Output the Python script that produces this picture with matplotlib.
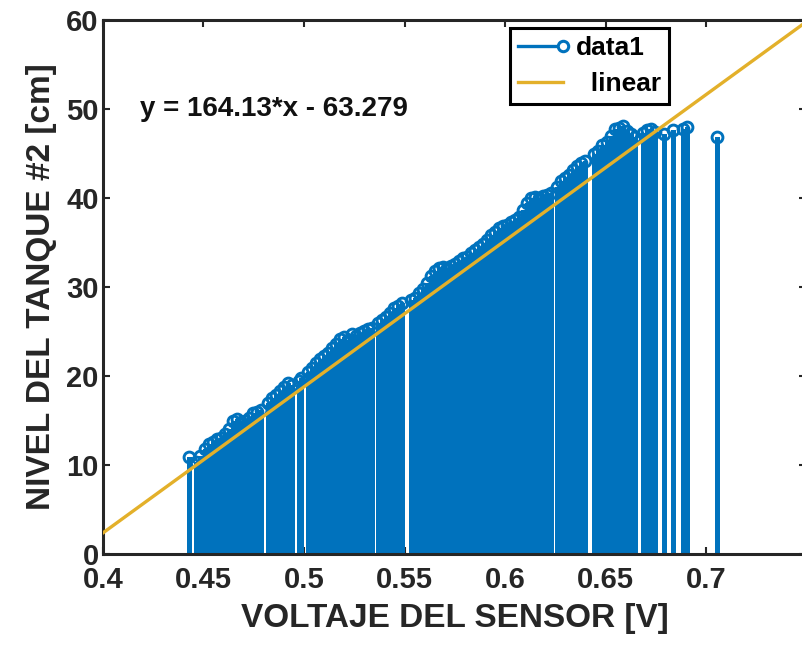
import numpy as np
import matplotlib.pyplot as plt
from matplotlib.lines import Line2D
from matplotlib.legend_handler import HandlerBase

plt.rcParams['font.family'] = ['Liberation Sans', 'DejaVu Sans']
plt.rcParams['font.weight'] = 'bold'

# sensor voltage [V] and tank level [cm]
volt = [0.4430,
        0.4465, 0.4485, 0.4505, 0.4525, 0.4545, 0.4565, 0.4585, 0.4605, 0.4625,
        0.4645, 0.4665, 0.4685, 0.4705, 0.4725, 0.4745, 0.4765, 0.4785,
        0.4820, 0.4840, 0.4860, 0.4880, 0.4900, 0.4920, 0.4940,
        0.4975, 0.4985,
        0.5020, 0.5040, 0.5060, 0.5080, 0.5100, 0.5120, 0.5140, 0.5160, 0.5180,
        0.5200, 0.5220, 0.5240, 0.5260, 0.5280, 0.5300, 0.5320, 0.5340,
        0.5370, 0.5390, 0.5410, 0.5430, 0.5450, 0.5470, 0.5490,
        0.553, 0.555, 0.557, 0.559, 0.561, 0.563, 0.565, 0.567, 0.569, 0.571,
        0.573, 0.575, 0.577, 0.579, 0.581, 0.583, 0.585, 0.587, 0.589, 0.591,
        0.593, 0.595, 0.597, 0.599, 0.601, 0.603, 0.605, 0.607, 0.609, 0.611,
        0.613, 0.615, 0.617, 0.619, 0.621, 0.623,
        0.626, 0.628, 0.630, 0.632, 0.634, 0.636, 0.638, 0.640,
        0.6445, 0.6465, 0.6485, 0.6505, 0.6525, 0.6545, 0.6565, 0.6585, 0.6605,
        0.6625, 0.6645,
        0.6685, 0.6705, 0.6725, 0.6745,
        0.6790,
        0.6835,
        0.6885, 0.6905,
        0.7055]
nivel = [10.9,
         10.3, 11.0, 11.8, 12.4, 12.6, 12.9, 13.0, 13.5, 14.1,
         14.9, 15.2, 14.8, 15.0, 15.3, 15.8, 16.0, 16.2,
         17.0, 17.5, 17.9, 18.3, 18.8, 19.2, 19.0,
         19.4, 19.8,
         20.4, 20.9, 21.5, 21.9, 22.3, 22.6, 23.2, 23.6, 24.2,
         24.4, 24.1, 24.7, 24.5, 24.8, 25.1, 25.3, 25.4,
         26.0, 26.3, 26.6, 27.1, 27.6, 27.9, 28.2,
         28.5, 28.8, 29.3, 29.8, 30.4, 31.2, 31.8, 32.1, 32.3, 32.1,
         32.4, 32.6, 32.9, 33.3, 33.4, 33.8, 34.2, 34.5, 34.8, 35.3,
         35.8, 36.2, 36.6, 36.9, 37.0, 37.3, 37.5, 37.9, 38.6, 39.4,
         40.0, 40.1, 40.0, 40.2, 40.3, 40.6,
         41.2, 41.9, 42.3, 42.6, 43.2, 43.6, 43.9, 44.2,
         44.9, 45.3, 45.9, 46.3, 47.0, 47.7, 47.9, 48.1, 47.5,
         47.2, 46.9,
         47.3, 47.6, 47.8, 47.4,
         47.2,
         47.6,
         47.8, 48.0,
         46.9]

# linear fit shown in the figure
slope = 164.13
intercept = -63.279
fit_x = np.array([0.4, 0.75])

xticks = [0.4, 0.45, 0.5, 0.55, 0.6, 0.65, 0.7]
xtick_labels = ['0.4', '0.45', '0.5', '0.55', '0.6', '0.65', '0.7']
yticks = [0, 10, 20, 30, 40, 50, 60]

blue = '#0072BD'
gold = '#E3B02A'
dark = '#262626'


class StemHandler(HandlerBase):
    # matlab-like legend entry: line with a circle at the right end
    def create_artists(self, legend, orig_handle, xdescent, ydescent,
                       width, height, fontsize, trans):
        y = height / 2 - ydescent
        x0, x1 = -xdescent, -xdescent + width
        ln = Line2D([x0, x1], [y, y], color=blue, lw=2.4)
        mk = Line2D([x1], [y], marker='o', ms=7.5, mew=2.2,
                    mfc='white', mec=blue, ls='none')
        ln.set_transform(trans)
        mk.set_transform(trans)
        return [ln, mk]


fig = plt.figure(figsize=(8.02, 6.55), dpi=100)
ax = fig.add_axes([103/802, 101/655, 703.5/802, 534/655])

markers, stems, base = ax.stem(volt, nivel, basefmt=' ')
plt.setp(stems, color=blue, linewidth=3.4, antialiased=False)
plt.setp(markers, color=blue, marker='o', markersize=7.8, markeredgewidth=2.1,
         markerfacecolor='none')

ax.plot(fit_x, slope * fit_x + intercept, color=gold, lw=2.4, zorder=5)

ax.text(0.4184, 50, 'y = 164.13*x - 63.279', fontsize=20, fontweight='bold',
        va='center', ha='left', color='#111111')

ax.set_xlim(0.4, 0.75)
ax.set_ylim(0, 60)
ax.set_xticks(xticks)
ax.set_xticklabels(xtick_labels)
ax.set_yticks(yticks)
ax.tick_params(direction='in', length=5, width=1.5, top=True, right=True,
               labelsize=21, colors=dark)
ax.tick_params(axis='y', pad=3)
ax.tick_params(axis='x', pad=9)
for sp in ax.spines.values():
    sp.set_linewidth(2.2)
    sp.set_color(dark)

ax.set_xlabel('VOLTAJE DEL SENSOR [V]', fontsize=24, fontweight='bold',
              color=dark, va='center')
ax.set_ylabel('NIVEL DEL TANQUE #2 [cm]', fontsize=24, fontweight='bold',
              color=dark, va='center')
ax.xaxis.set_label_coords((455 - 103) / 703.5, (554 - 619) / 534)
ax.yaxis.set_label_coords((42 - 103) / 703.5, (554 - 287) / 534)

h_data = Line2D([], [], color=blue)
h_lin = Line2D([], [], color=gold, lw=2.4)
leg = ax.legend([h_data, h_lin], ['data1', '  linear'],
                handler_map={h_data: StemHandler()},
                loc='upper left', bbox_to_anchor=(510/802, 1 - 28/655),
                bbox_transform=fig.transFigure, borderaxespad=0,
                fontsize=19, handlelength=1.7, handletextpad=0.5,
                borderpad=0.3, labelspacing=0.45, fancybox=False,
                framealpha=1, edgecolor='black')
leg.get_frame().set_linewidth(2.2)
leg.set_zorder(10)

fig.savefig('out.png', dpi=100)
